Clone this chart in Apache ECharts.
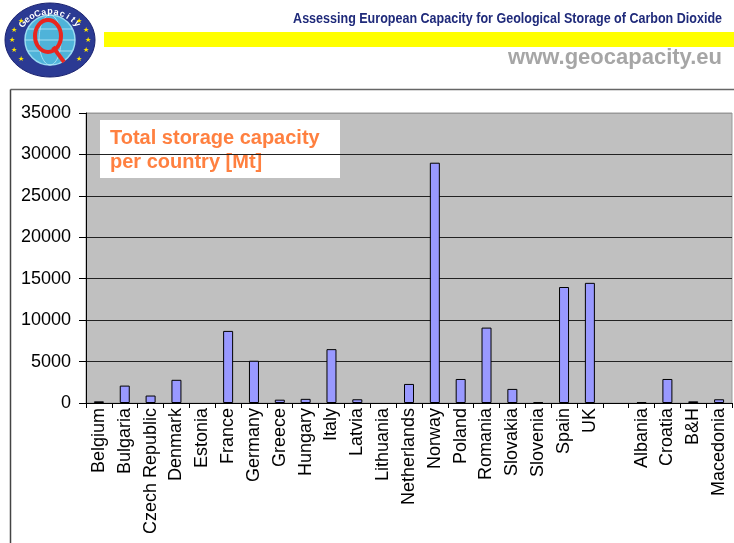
<!DOCTYPE html>
<html>
<head>
<meta charset="utf-8">
<script src="https://cdn.jsdelivr.net/npm/echarts@6/dist/echarts.min.js"></script>
<style>
  html, body { margin: 0; padding: 0; background: #fff; }
  #chart { width: 734px; height: 543px; }
</style>
</head>
<body>
<div id="chart"></div>
<script>
// countries (the empty one is the gap before the Balkan group)
const countries = [
  "Belgium", "Bulgaria", "Czech Republic", "Denmark", "Estonia", "France",
  "Germany", "Greece", "Hungary", "Italy", "Latvia", "Lithuania",
  "Netherlands", "Norway", "Poland", "Romania", "Slovakia", "Slovenia",
  "Spain", "UK", "", "Albania", "Croatia", "B&H", "Macedonia"
];
// total storage capacity [Mt] (null = no bar drawn)
const capacity = [
  200, 2100, 900, 2800, null, 8700,
  5100, 400, 500, 6500, 450, null,
  2300, 29000, 2900, 9100, 1700, 100,
  14000, 14500, null, 100, 2900, 200, 450
];
const yTicks = [0, 5000, 10000, 15000, 20000, 25000, 30000, 35000];

const FONT = "'Liberation Sans', Arial, sans-serif";

const chart = echarts.init(document.getElementById("chart"));

// logo letters placed along the upper arc of the badge
const logoWord = "GeoCapacity";
const logoLetters = logoWord.split("").map((ch, i) => {
  const a = (-145 + (i * 110) / (logoWord.length - 1)) * Math.PI / 180;
  return {
    type: "text",
    x: 50 + Math.cos(a) * 33,
    y: 40 + Math.sin(a) * 28,
    rotation: -(a + Math.PI / 2),
    style: {
      text: ch, fill: "#fff", font: "bold 9px " + FONT,
      textAlign: "center", textVerticalAlign: "middle"
    }
  };
});
const logoStars = [-40, -20, 0, 20, 40, 140, 160, 180, 200, 220].map((deg) => {
  const a = deg * Math.PI / 180;
  return {
    type: "text",
    x: 50 + Math.cos(a) * 38,
    y: 40 + Math.sin(a) * 30,
    style: {
      text: "★", fill: "#FFE600", font: "7px " + FONT,
      textAlign: "center", textVerticalAlign: "middle"
    }
  };
});

const option = {
  animation: false,
  backgroundColor: "#fff",
  textStyle: { fontFamily: FONT },
  grid: {
    left: 86, top: 113, right: 2, bottom: 140,
    show: true, backgroundColor: "#C0C0C0",
    borderColor: "#999", borderWidth: 1
  },
  xAxis: {
    type: "category",
    data: countries,
    axisLine: { lineStyle: { color: "#000", width: 1 } },
    axisTick: { show: true, length: 5, lineStyle: { color: "#000" } },
    axisLabel: {
      rotate: 90, interval: 0, margin: 5,
      color: "#000", fontSize: 18, fontFamily: FONT
    }
  },
  yAxis: {
    type: "value",
    min: 0, max: 35000, interval: 5000,
    axisLine: { show: true, lineStyle: { color: "#000", width: 1 } },
    axisTick: { show: true, length: 7, lineStyle: { color: "#000" } },
    axisLabel: {
      margin: 15, color: "#000", fontSize: 18, fontFamily: FONT,
      formatter: (v) => (yTicks.includes(v) ? String(v) : "")
    },
    splitLine: {
      show: true,
      lineStyle: {
        color: ["#222", "#222", "#222", "#222", "#222", "#222", "#222", "#999"],
        width: 1
      }
    }
  },
  series: [{
    type: "bar",
    data: capacity,
    barWidth: 10,
    itemStyle: { color: "#9999FF", borderColor: "#000", borderWidth: 1 }
  }],
  graphic: [
    // chart frame
    { type: "line", shape: { x1: 10.5, y1: 89.5, x2: 734, y2: 89.5 },
      style: { stroke: "#666", lineWidth: 1.5 } },
    { type: "line", shape: { x1: 10.5, y1: 89.5, x2: 10.5, y2: 543 },
      style: { stroke: "#444", lineWidth: 1.5 } },
    // header
    { type: "rect", shape: { x: 104, y: 32, width: 630, height: 15 },
      style: { fill: "#FFFF00" } },
    { type: "text", x: 722, y: 19, scaleX: 0.895,
      style: { text: "Assessing European Capacity for Geological Storage of Carbon Dioxide",
        fill: "#1F2A7A", font: "bold 14px " + FONT,
        textAlign: "right", textVerticalAlign: "middle" } },
    { type: "text", x: 722, y: 58,
      style: { text: "www.geocapacity.eu", fill: "#A6A6A6",
        font: "bold 22px " + FONT, textAlign: "right", textVerticalAlign: "middle" } },
    // logo
    { type: "ellipse", shape: { cx: 50, cy: 40, rx: 45, ry: 37 },
      style: { fill: "#2B3A93", stroke: "#1A2270", lineWidth: 1 } },
    { type: "circle", shape: { cx: 50, cy: 40, r: 25 },
      style: { fill: "#4FB3D9", stroke: "#9ADCF2", lineWidth: 1.5 } },
    { type: "ellipse", shape: { cx: 50, cy: 40, rx: 11, ry: 25 },
      style: { fill: "none", stroke: "#BDEAF8", lineWidth: 0.8 } },
    { type: "line", shape: { x1: 25, y1: 40, x2: 75, y2: 40 },
      style: { stroke: "#BDEAF8", lineWidth: 0.8 } },
    { type: "line", shape: { x1: 28, y1: 29, x2: 72, y2: 29 },
      style: { stroke: "#BDEAF8", lineWidth: 0.8 } },
    { type: "line", shape: { x1: 28, y1: 51, x2: 72, y2: 51 },
      style: { stroke: "#BDEAF8", lineWidth: 0.8 } },
    { type: "ellipse", shape: { cx: 48, cy: 36, rx: 13, ry: 16 },
      style: { fill: "none", stroke: "#E8261F", lineWidth: 4 } },
    { type: "line", shape: { x1: 53, y1: 47, x2: 64, y2: 62 },
      style: { stroke: "#E8261F", lineWidth: 4 } },
    ...logoLetters,
    ...logoStars,
    // caption box inside the plot
    { type: "rect", shape: { x: 100, y: 120, width: 240, height: 58 },
      style: { fill: "#fff" } },
    { type: "text", x: 110, y: 138,
      style: { text: "Total storage capacity", fill: "#FF8040",
        font: "bold 20px " + FONT, textVerticalAlign: "middle" } },
    { type: "text", x: 110, y: 162,
      style: { text: "per country [Mt]", fill: "#FF8040",
        font: "bold 20px " + FONT, textVerticalAlign: "middle" } }
  ]
};

chart.setOption(option);
window.addEventListener("resize", chart.resize);
</script>
</body>
</html>
